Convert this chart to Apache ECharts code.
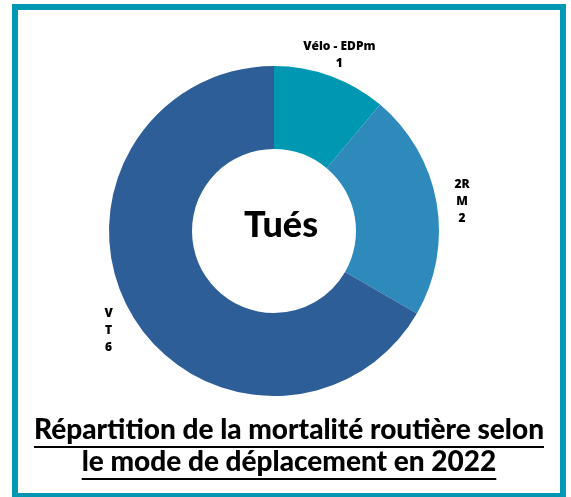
<!DOCTYPE html>
<html>
<head>
<meta charset="utf-8">
<script src="https://cdn.jsdelivr.net/npm/echarts@6/dist/echarts.min.js"></script>
<style>
html,body{margin:0;padding:0;background:#fff;}
#chart{width:571px;height:497px;}
</style>
</head>
<body>
<div id="chart"></div>
<script>
// Data
var categories = ['Vélo - EDPm', '2RM', 'VT'];
var labelNames = ['Vélo - EDPm', '2R\nM', 'V\nT'];
var values = [1, 2, 6];
var colors = ['#0097B2', '#2D8ABB', '#2E5E98'];
var centerText = 'Tués';
var titleLines = ['Répartition de la mortalité routière selon', 'le mode de déplacement en 2022'];

var chart = echarts.init(document.getElementById('chart'), null, {renderer: 'canvas'});

var pieData = categories.map(function (c, i) {
  return { name: c, value: values[i], itemStyle: { color: colors[i] } };
});
var labelData = categories.map(function (c, i) {
  return { name: c, value: values[i], label: { formatter: labelNames[i] + '\n{c}' } };
});

var titleFont = { fontFamily: 'Lato', fontWeight: 900, fontSize: 28 };
var option = {
  animation: false,
  title: [{
    text: titleLines.join('\n'),
    left: 289,
    top: 414,
    padding: 0,
    textAlign: 'center',
    textStyle: { fontFamily: titleFont.fontFamily, fontWeight: titleFont.fontWeight, fontSize: titleFont.fontSize, color: '#000', lineHeight: 32 }
  }, {
    text: centerText,
    left: 281,
    top: 207,
    padding: 0,
    textAlign: 'center',
    textStyle: { fontFamily: 'Lato', fontWeight: 900, fontSize: 36, color: '#000' }
  }],
  graphic: [{
    type: 'rect',
    shape: { x: 15, y: 7, width: 548, height: 489 },
    style: { fill: 'none', stroke: '#0097B2', lineWidth: 6 },
    silent: true
  }],
  series: [{
    type: 'pie',
    center: [274, 231],
    radius: [82, 165],
    startAngle: 90,
    clockwise: true,
    label: { show: false },
    labelLine: { show: false },
    emphasis: { disabled: true },
    itemStyle: { borderWidth: 0 },
    data: pieData
  }, {
    type: 'pie',
    center: [274, 235],
    radius: [174, 202],
    startAngle: 90,
    clockwise: true,
    silent: true,
    itemStyle: { color: 'rgba(0,0,0,0)', borderWidth: 0 },
    label: {
      show: true,
      position: 'inside',
      rotate: 0,
      fontFamily: 'Open Sans',
      fontWeight: 800,
      fontSize: 12,
      lineHeight: 17,
      color: '#000',
      align: 'center'
    },
    labelLine: { show: false },
    emphasis: { disabled: true },
    data: labelData
  }]
};
chart.setOption(option);

// underline title lines
(function () {
  var ctx = document.createElement('canvas').getContext('2d');
  ctx.font = titleFont.fontWeight + ' ' + titleFont.fontSize + 'px ' + titleFont.fontFamily;
  var g = [];
  var baseY = [447, 479];
  titleLines.forEach(function (t, i) {
    var w = ctx.measureText(t).width;
    g.push({
      type: 'line',
      shape: { x1: 289 - w / 2, y1: baseY[i], x2: 289 + w / 2, y2: baseY[i] },
      style: { stroke: '#000', lineWidth: 2 },
      silent: true
    });
  });
  chart.setOption({ graphic: option.graphic.concat(g) });
})();
</script>
</body>
</html>
